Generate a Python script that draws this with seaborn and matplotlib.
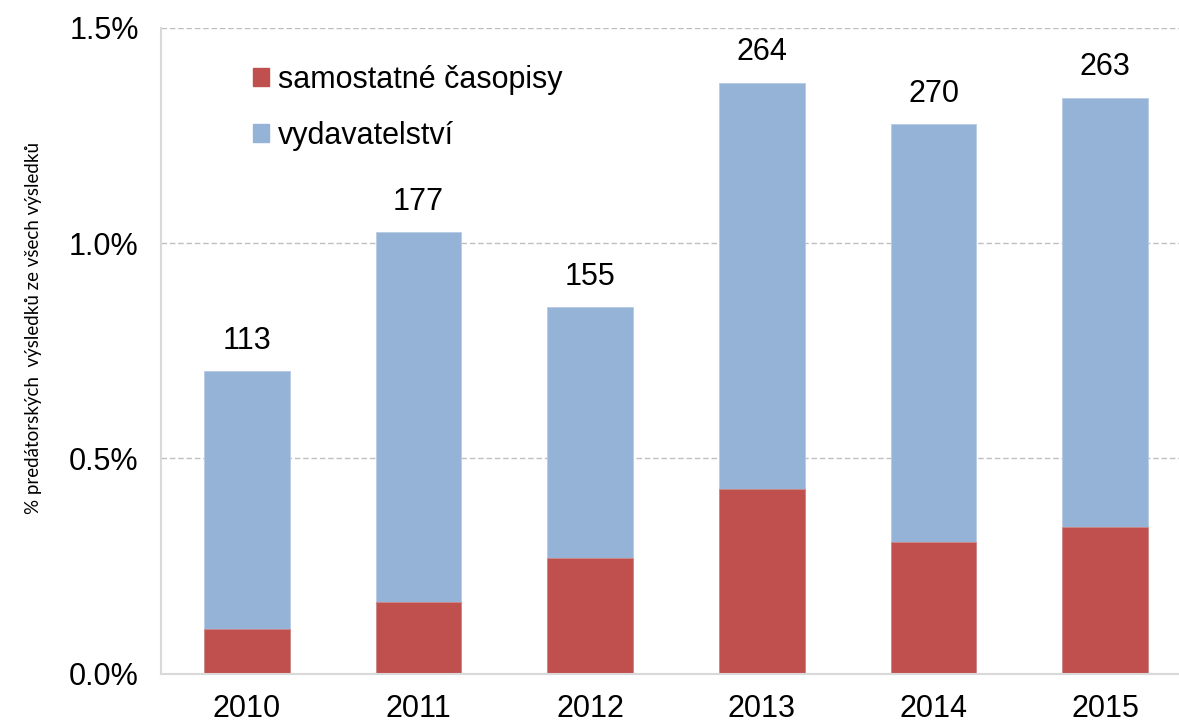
import pandas as pd
import seaborn as sns
import matplotlib.pyplot as plt
from matplotlib.patches import Patch

# data (% of all results)
years = ["2010", "2011", "2012", "2013", "2014", "2015"]
samostatne = [0.104, 0.167, 0.268, 0.430, 0.306, 0.341]
vydavatelstvi = [0.599, 0.858, 0.583, 0.943, 0.970, 0.997]
counts = [113, 177, 155, 264, 270, 263]

red = "#C0504D"
blue = "#95B3D7"
grid_col = "#BFBFBF"
spine_col = "#D9D9D9"

df = pd.DataFrame({"rok": years, "samostatne": samostatne, "vydavatelstvi": vydavatelstvi})
df["celkem"] = df["samostatne"] + df["vydavatelstvi"]

sns.set_style("white")
plt.rcParams["font.family"] = ["Liberation Sans", "DejaVu Sans"]
plt.rcParams["text.color"] = "black"
plt.rcParams["xtick.labelcolor"] = "black"
plt.rcParams["ytick.labelcolor"] = "black"
plt.rcParams["axes.labelcolor"] = "black"

fig = plt.figure(figsize=(11.79, 7.25), dpi=100)
ax = fig.add_axes([0.1366, 0.0709, 0.8634, 0.8905])

# stacked bars: full height in blue, bottom part in red
sns.barplot(data=df, x="rok", y="celkem", color=blue, width=0.5, saturation=1,
            edgecolor="#B8CCE4", linewidth=0.6, ax=ax)
sns.barplot(data=df, x="rok", y="samostatne", color=red, width=0.5, saturation=1,
            edgecolor="#D08A88", linewidth=0.6, ax=ax)

ax.bar_label(ax.containers[0], labels=[str(c) for c in counts], padding=11, fontsize=22)

ax.set_ylim(0, 1.5)
ax.set_xlim(-0.5, 5.43)
ax.set_yticks([0, 0.5, 1.0, 1.5])
ax.set_yticklabels(["0.0%", "0.5%", "1.0%", "1.5%"], fontsize=22)
ax.set_xticks(range(len(years)))
ax.set_xticklabels(years, fontsize=22)
ax.set_xlabel("")
ax.set_ylabel("% predátorských  výsledků ze všech výsledků", fontsize=13.5,
              family=["Lato", "DejaVu Sans"], labelpad=30)
ax.yaxis.set_label_coords(-0.117, 0.535)

ax.yaxis.grid(True, color=grid_col, linestyle=(0, (4, 2)), linewidth=1)
ax.set_axisbelow(True)
for s in ["top", "right"]:
    ax.spines[s].set_visible(False)
for s in ["left", "bottom"]:
    ax.spines[s].set_color(spine_col)
    ax.spines[s].set_linewidth(1.5)

ax.tick_params(axis="y", length=10, color=spine_col, width=1.2, pad=6)
ax.tick_params(axis="x", length=0, pad=15)
# small tick marks between categories
ax.set_xticks([i + 0.5 for i in range(len(years) - 1)], minor=True)
ax.tick_params(axis="x", which="minor", length=8, color=spine_col, width=1.5)

handles = [Patch(color=red, label="samostatné časopisy"),
           Patch(color=blue, label="vydavatelství")]
ax.legend(handles=handles, loc="upper left", bbox_to_anchor=(0.063, 0.985), frameon=False,
          fontsize=22, handlelength=0.52, handleheight=0.52, handletextpad=0.3,
          labelspacing=0.85)

fig.savefig("out.png", dpi=100)
